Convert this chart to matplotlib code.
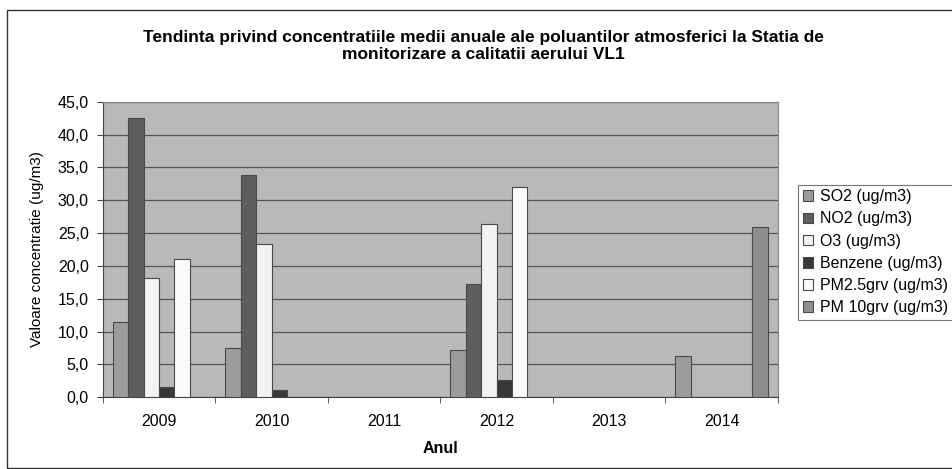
import matplotlib.pyplot as plt
from matplotlib.patches import Rectangle
import numpy as np

plt.rcParams['font.family'] = ['Liberation Sans', 'DejaVu Sans']

years = ['2009', '2010', '2011', '2012', '2013', '2014']
series = ['SO2 (ug/m3)', 'NO2 (ug/m3)', 'O3 (ug/m3)', 'Benzene (ug/m3)',
          'PM2.5grv (ug/m3)', 'PM 10grv (ug/m3)']
so2 = [11.4, 7.5, np.nan, 7.2, np.nan, 6.3]
no2 = [42.6, 33.8, np.nan, 17.2, np.nan, np.nan]
o3 = [18.1, 23.4, np.nan, 26.4, np.nan, np.nan]
benzene = [1.5, 1.1, np.nan, 2.6, np.nan, np.nan]
pm25 = [21.0, np.nan, np.nan, 32.0, np.nan, np.nan]
pm10 = [np.nan, np.nan, np.nan, np.nan, np.nan, 26.0]
ytick_labels = ['0,0', '5,0', '10,0', '15,0', '20,0', '25,0', '30,0', '35,0', '40,0', '45,0']

colors = ['#9c9c9c', '#5e5e5e', '#f2f2f2', '#383838', '#fbfbfb', '#8e8e8e']

fig = plt.figure(figsize=(9.52, 4.69), dpi=100)
fig.patch.set_facecolor('white')
ax = fig.add_axes([0.108, 0.153, 0.709, 0.630])
ax.set_facecolor('#b9b9b9')

x = np.arange(len(years))
w = 0.137
data = [so2, no2, o3, benzene, pm25, pm10]
for i, (vals, name, c) in enumerate(zip(data, series, colors)):
    ax.bar(x - 2.5 * w + i * w, vals, width=w, color=c, edgecolor='#4a4a4a',
           linewidth=0.8, label=name, zorder=3)

ax.set_ylim(0, 45)
ax.set_xlim(-0.5, len(years) - 0.5)
ax.set_yticks(np.arange(0, 50, 5))
ax.set_yticklabels(ytick_labels, fontsize=11.5)
ax.yaxis.grid(True, color='#555555', linewidth=0.9, zorder=1)
ax.set_axisbelow(True)

ax.set_xticks(x)
ax.set_xticklabels(years, fontsize=11.5)
ax.set_xticks(np.arange(-0.5, len(years), 1), minor=True)
ax.tick_params(axis='x', which='major', length=0, pad=12)
ax.tick_params(axis='x', which='minor', length=4, direction='out', color='#444444')
ax.tick_params(axis='y', length=4, color='#444444', pad=6)

for s in ax.spines.values():
    s.set_color('#888888')
    s.set_linewidth(0.8)
ax.spines['left'].set_color('#444444')
ax.spines['bottom'].set_color('#444444')

ax.set_ylabel('Valoare concentratie (ug/m3)', fontsize=11, labelpad=10)
ax.set_xlabel('Anul', fontsize=11.5, fontweight='bold', labelpad=9)

fig.text(0.508, 0.902,
         'Tendinta privind concentratiile medii anuale ale poluantilor atmosferici la Statia de\n'
         'monitorizare a calitatii aerului VL1',
         ha='center', va='center', fontsize=12.5, fontweight='bold', linespacing=1.1)

leg = ax.legend(loc='upper left', bbox_to_anchor=(1.03, 0.72), fontsize=11.5,
                frameon=True, fancybox=False, edgecolor='#555555',
                handlelength=0.65, handleheight=0.65, handletextpad=0.4,
                labelspacing=0.45, borderpad=0.3, borderaxespad=0)
leg.get_frame().set_linewidth(0.8)

fig.patches.append(Rectangle((7 / 952, 1 / 469), 1.05, 458 / 469,
                             transform=fig.transFigure, fill=False,
                             edgecolor='#333333', linewidth=1.0))

fig.savefig('out.png', dpi=100)
